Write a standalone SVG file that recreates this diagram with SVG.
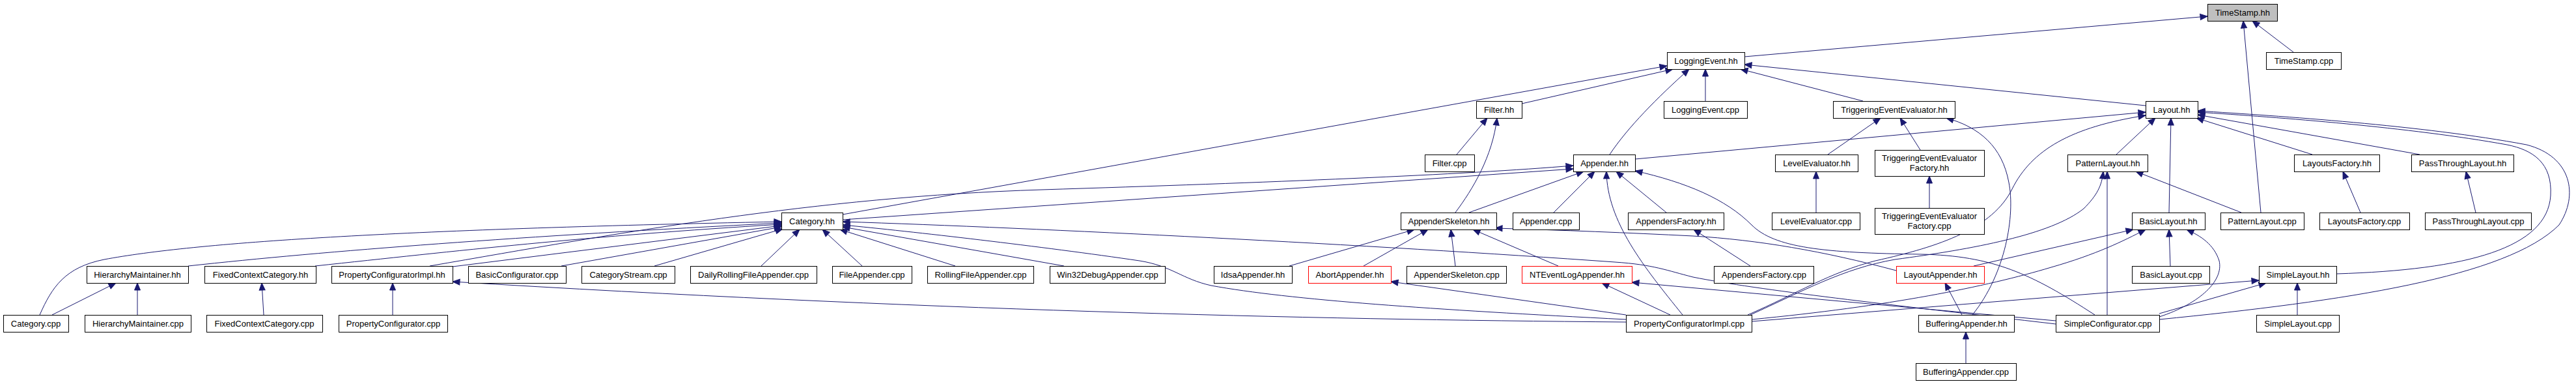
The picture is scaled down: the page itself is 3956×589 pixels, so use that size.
<svg xmlns="http://www.w3.org/2000/svg" width="3956" height="589" viewBox="0 0 3956 589">
<style>
.node rect{fill:#ffffff;stroke:#000000;stroke-width:1}
.node.red rect{stroke:#ff0000}
.node.root rect{fill:#bfbfbf}
.node text{font-family:"Liberation Sans",Arial,Helvetica,sans-serif;font-size:13px;fill:#000;text-anchor:middle}
.edges path{fill:none;stroke:#191970;stroke-width:1;marker-end:url(#arr)}
</style>
<defs>
<marker id="arr" markerUnits="userSpaceOnUse" markerWidth="12" markerHeight="10" refX="11" refY="4.5" orient="auto" overflow="visible">
<path d="M0,0 L11,4.5 L0,9 Z" fill="#191970" stroke="#191970" stroke-width="1"/>
</marker>
</defs>
<rect width="3956" height="589" fill="#ffffff"/>
<g id="edges" class="edges">
<path d="M2679,87 L3390,25"/>
<path d="M3522,80 L3459,32"/>
<path d="M3472,326 L3445,32"/>
<path d="M1294,329 L2560,101"/>
<path d="M2337,159 L2569,106"/>
<path d="M2472,237 C2500,195 2545,150 2594,106"/>
<path d="M2619,155 L2619,106"/>
<path d="M2861,155 L2673,106"/>
<path d="M3295,162 L2679,99"/>
<path d="M2237,237 L2284,181"/>
<path d="M2235,326 C2262,290 2292,240 2299,181"/>
<path d="M1294,337 L2416,259"/>
<path d="M660,408 C950,358 1250,302 1600,291 S2250,268 2416,254"/>
<path d="M2256,326 L2432,263"/>
<path d="M2386,326 L2449,263"/>
<path d="M2584,483 C2525,410 2468,340 2467,263"/>
<path d="M2559,326 L2482,263"/>
<path d="M3217,483 C3120,420 3060,392 2950,390 C2800,388 2725,380 2690,345 C2650,305 2590,280 2511,262"/>
<path d="M2511,244 L3295,172"/>
<path d="M2807,237 L2888,181"/>
<path d="M2949,230 L2918,181"/>
<path d="M3029,483 C3080,420 3095,330 3085,280 C3075,225 3040,195 2989,181"/>
<path d="M2684,483 C2760,450 2810,418 2880,400 C2980,378 3060,350 3090,290 C3120,230 3180,195 3295,177"/>
<path d="M3250,237 L3310,181"/>
<path d="M3331,326 L3334,181"/>
<path d="M3551,237 L3373,181"/>
<path d="M3716,237 L3375,176"/>
<path d="M3588,420 C3790,414 3912,380 3917,300 C3920,250 3890,230 3850,222 C3700,195 3500,180 3375,172"/>
<path d="M3316,490 C3600,462 3850,425 3930,345 C3960,300 3950,240 3880,222 C3720,192 3500,178 3375,170"/>
<path d="M2688,483 C2770,446 2830,412 2910,398 C3030,382 3150,360 3200,320 C3220,300 3228,285 3230,263"/>
<path d="M3442,326 L3280,263"/>
<path d="M3236,483 L3236,263"/>
<path d="M3625,326 L3598,263"/>
<path d="M3802,326 L3787,263"/>
<path d="M2789,326 L2789,263"/>
<path d="M2963,319 L2963,270"/>
<path d="M61,483 C80,440 100,410 160,398 C300,372 600,352 1200,340"/>
<path d="M289,408 C500,385 800,362 1200,342"/>
<path d="M484,408 C700,385 900,362 1200,344"/>
<path d="M695,409 L1200,346"/>
<path d="M862,408 L1200,348"/>
<path d="M1005,408 L1202,351"/>
<path d="M1169,408 L1228,352"/>
<path d="M1324,408 L1263,352"/>
<path d="M1467,408 L1290,352"/>
<path d="M1634,408 L1294,348"/>
<path d="M2497,490 C2200,475 1980,460 1860,438 C1815,428 1800,408 1750,400 C1600,378 1400,355 1294,345"/>
<path d="M3157,497 C2900,467 2700,445 2600,425 C2560,415 2540,406 2480,402 C2100,375 1600,350 1294,340"/>
<path d="M1980,408 L2172,352"/>
<path d="M2094,408 L2193,352"/>
<path d="M2235,408 L2228,352"/>
<path d="M2393,408 L2262,352"/>
<path d="M2912,415 C2800,385 2700,368 2600,362 C2500,357 2400,353 2296,350"/>
<path d="M2688,408 L2601,352"/>
<path d="M80,483 L178,434"/>
<path d="M211,483 L211,434"/>
<path d="M405,483 L402,434"/>
<path d="M603,483 L603,434"/>
<path d="M2497,494 C2000,490 1400,475 695,432"/>
<path d="M2497,483 L2136,432"/>
<path d="M2565,483 L2460,434"/>
<path d="M3157,492 L2506,433"/>
<path d="M3013,483 L2987,434"/>
<path d="M3031,408 L3276,352"/>
<path d="M2690,490 C2900,470 3050,440 3150,410 C3220,390 3260,370 3295,352"/>
<path d="M3316,486 C3380,465 3415,430 3408,400 C3400,375 3380,362 3358,352"/>
<path d="M3333,408 L3331,352"/>
<path d="M2690,493 L3469,430"/>
<path d="M3316,481 L3480,434"/>
<path d="M3528,483 L3528,434"/>
<path d="M3019,557 L3019,509"/>
</g>
<g id="TimeStamp_hh" class="node root"><rect x="3390.5" y="6.5" width="107" height="26"/><text x="3444" y="24">TimeStamp.hh</text></g>
<g id="LoggingEvent_hh" class="node"><rect x="2560.5" y="80.5" width="119" height="26"/><text x="2620" y="98">LoggingEvent.hh</text></g>
<g id="TimeStamp_cpp" class="node"><rect x="3480.5" y="80.5" width="115" height="26"/><text x="3538" y="98">TimeStamp.cpp</text></g>
<g id="Filter_hh" class="node"><rect x="2267.5" y="155.5" width="70" height="26"/><text x="2302" y="173">Filter.hh</text></g>
<g id="LoggingEvent_cpp" class="node"><rect x="2555.5" y="155.5" width="128" height="26"/><text x="2619" y="173">LoggingEvent.cpp</text></g>
<g id="TriggeringEventEvaluator_hh" class="node"><rect x="2815.5" y="155.5" width="187" height="26"/><text x="2909" y="173">TriggeringEventEvaluator.hh</text></g>
<g id="Layout_hh" class="node"><rect x="3295.5" y="155.5" width="80" height="26"/><text x="3335" y="173">Layout.hh</text></g>
<g id="Filter_cpp" class="node"><rect x="2188.5" y="237.5" width="76" height="26"/><text x="2226" y="255">Filter.cpp</text></g>
<g id="Appender_hh" class="node"><rect x="2416.5" y="237.5" width="95" height="26"/><text x="2464" y="255">Appender.hh</text></g>
<g id="LevelEvaluator_hh" class="node"><rect x="2726.5" y="237.5" width="127" height="26"/><text x="2790" y="255">LevelEvaluator.hh</text></g>
<g id="TriggeringEventEvaluatorFactory_hh" class="node"><rect x="2879.5" y="230.5" width="168" height="40"/><text x="2963" y="247">TriggeringEventEvaluator</text><text x="2963" y="262">Factory.hh</text></g>
<g id="PatternLayout_hh" class="node"><rect x="3175.5" y="237.5" width="123" height="26"/><text x="3237" y="255">PatternLayout.hh</text></g>
<g id="LayoutsFactory_hh" class="node"><rect x="3523.5" y="237.5" width="131" height="26"/><text x="3589" y="255">LayoutsFactory.hh</text></g>
<g id="PassThroughLayout_hh" class="node"><rect x="3703.5" y="237.5" width="157" height="26"/><text x="3782" y="255">PassThroughLayout.hh</text></g>
<g id="Category_hh" class="node"><rect x="1200.5" y="326.5" width="94" height="26"/><text x="1247" y="344">Category.hh</text></g>
<g id="AppenderSkeleton_hh" class="node"><rect x="2151.5" y="326.5" width="147" height="26"/><text x="2225" y="344">AppenderSkeleton.hh</text></g>
<g id="Appender_cpp" class="node"><rect x="2323.5" y="326.5" width="102" height="26"/><text x="2374" y="344">Appender.cpp</text></g>
<g id="AppendersFactory_hh" class="node"><rect x="2500.5" y="326.5" width="147" height="26"/><text x="2574" y="344">AppendersFactory.hh</text></g>
<g id="LevelEvaluator_cpp" class="node"><rect x="2721.5" y="326.5" width="135" height="26"/><text x="2789" y="344">LevelEvaluator.cpp</text></g>
<g id="TriggeringEventEvaluatorFactory_cpp" class="node"><rect x="2879.5" y="319.5" width="168" height="40"/><text x="2963" y="336">TriggeringEventEvaluator</text><text x="2963" y="351">Factory.cpp</text></g>
<g id="BasicLayout_hh" class="node"><rect x="3274.5" y="326.5" width="112" height="26"/><text x="3330" y="344">BasicLayout.hh</text></g>
<g id="PatternLayout_cpp" class="node"><rect x="3410.5" y="326.5" width="128" height="26"/><text x="3474" y="344">PatternLayout.cpp</text></g>
<g id="LayoutsFactory_cpp" class="node"><rect x="3562.5" y="326.5" width="138" height="26"/><text x="3631" y="344">LayoutsFactory.cpp</text></g>
<g id="PassThroughLayout_cpp" class="node"><rect x="3724.5" y="326.5" width="163" height="26"/><text x="3806" y="344">PassThroughLayout.cpp</text></g>
<g id="HierarchyMaintainer_hh" class="node"><rect x="133.5" y="408.5" width="156" height="26"/><text x="211" y="426">HierarchyMaintainer.hh</text></g>
<g id="FixedContextCategory_hh" class="node"><rect x="314.5" y="408.5" width="171" height="26"/><text x="400" y="426">FixedContextCategory.hh</text></g>
<g id="PropertyConfiguratorImpl_hh" class="node"><rect x="509.5" y="408.5" width="186" height="26"/><text x="602" y="426">PropertyConfiguratorImpl.hh</text></g>
<g id="BasicConfigurator_cpp" class="node"><rect x="719.5" y="408.5" width="150" height="26"/><text x="794" y="426">BasicConfigurator.cpp</text></g>
<g id="CategoryStream_cpp" class="node"><rect x="893.5" y="408.5" width="143" height="26"/><text x="965" y="426">CategoryStream.cpp</text></g>
<g id="DailyRollingFileAppender_cpp" class="node"><rect x="1060.5" y="408.5" width="194" height="26"/><text x="1157" y="426">DailyRollingFileAppender.cpp</text></g>
<g id="FileAppender_cpp" class="node"><rect x="1278.5" y="408.5" width="122" height="26"/><text x="1339" y="426">FileAppender.cpp</text></g>
<g id="RollingFileAppender_cpp" class="node"><rect x="1424.5" y="408.5" width="163" height="26"/><text x="1506" y="426">RollingFileAppender.cpp</text></g>
<g id="Win32DebugAppender_cpp" class="node"><rect x="1612.5" y="408.5" width="177" height="26"/><text x="1701" y="426">Win32DebugAppender.cpp</text></g>
<g id="IdsaAppender_hh" class="node"><rect x="1864.5" y="408.5" width="120" height="26"/><text x="1924" y="426">IdsaAppender.hh</text></g>
<g id="AbortAppender_hh" class="node red"><rect x="2009.5" y="408.5" width="127" height="26"/><text x="2073" y="426">AbortAppender.hh</text></g>
<g id="AppenderSkeleton_cpp" class="node"><rect x="2160.5" y="408.5" width="153" height="26"/><text x="2237" y="426">AppenderSkeleton.cpp</text></g>
<g id="NTEventLogAppender_hh" class="node red"><rect x="2337.5" y="408.5" width="169" height="26"/><text x="2422" y="426">NTEventLogAppender.hh</text></g>
<g id="AppendersFactory_cpp" class="node"><rect x="2632.5" y="408.5" width="153" height="26"/><text x="2709" y="426">AppendersFactory.cpp</text></g>
<g id="LayoutAppender_hh" class="node red"><rect x="2912.5" y="408.5" width="135" height="26"/><text x="2980" y="426">LayoutAppender.hh</text></g>
<g id="BasicLayout_cpp" class="node"><rect x="3274.5" y="408.5" width="119" height="26"/><text x="3334" y="426">BasicLayout.cpp</text></g>
<g id="SimpleLayout_hh" class="node"><rect x="3469.5" y="408.5" width="119" height="26"/><text x="3529" y="426">SimpleLayout.hh</text></g>
<g id="Category_cpp" class="node"><rect x="5.5" y="483.5" width="100" height="26"/><text x="55" y="501">Category.cpp</text></g>
<g id="HierarchyMaintainer_cpp" class="node"><rect x="130.5" y="483.5" width="163" height="26"/><text x="212" y="501">HierarchyMaintainer.cpp</text></g>
<g id="FixedContextCategory_cpp" class="node"><rect x="317.5" y="483.5" width="178" height="26"/><text x="406" y="501">FixedContextCategory.cpp</text></g>
<g id="PropertyConfigurator_cpp" class="node"><rect x="520.5" y="483.5" width="167" height="26"/><text x="604" y="501">PropertyConfigurator.cpp</text></g>
<g id="PropertyConfiguratorImpl_cpp" class="node"><rect x="2497.5" y="483.5" width="193" height="26"/><text x="2594" y="501">PropertyConfiguratorImpl.cpp</text></g>
<g id="BufferingAppender_hh" class="node"><rect x="2946.5" y="483.5" width="147" height="26"/><text x="3020" y="501">BufferingAppender.hh</text></g>
<g id="SimpleConfigurator_cpp" class="node"><rect x="3157.5" y="483.5" width="159" height="26"/><text x="3237" y="501">SimpleConfigurator.cpp</text></g>
<g id="SimpleLayout_cpp" class="node"><rect x="3465.5" y="483.5" width="127" height="26"/><text x="3529" y="501">SimpleLayout.cpp</text></g>
<g id="BufferingAppender_cpp" class="node"><rect x="2942.5" y="557.5" width="154" height="26"/><text x="3019" y="575">BufferingAppender.cpp</text></g>
</svg>
